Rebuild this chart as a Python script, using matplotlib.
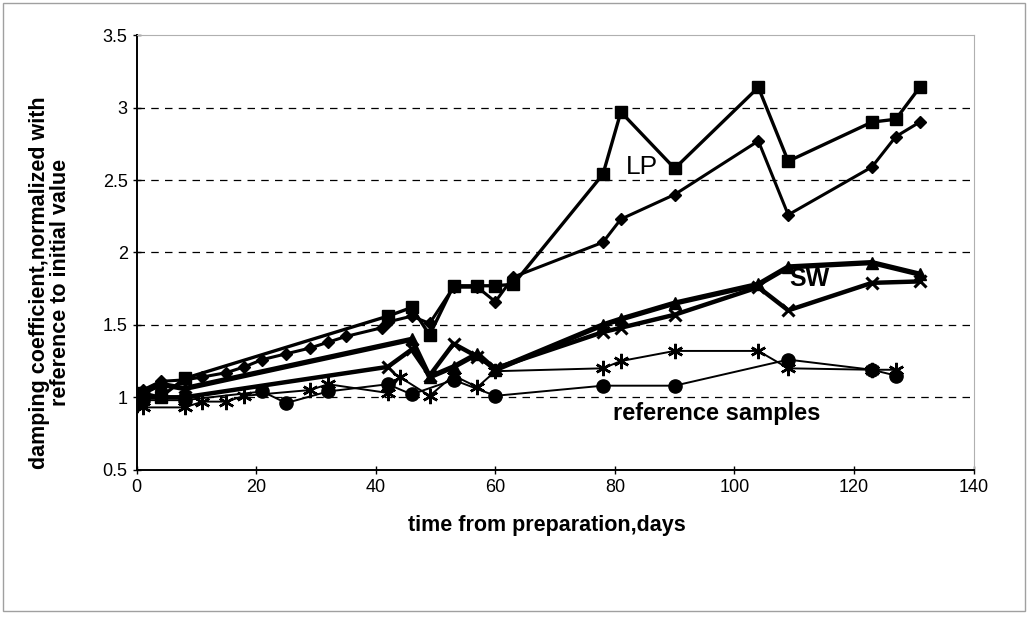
import matplotlib.pyplot as plt
from matplotlib.patches import Rectangle

plt.rcParams['font.family'] = ['Liberation Sans', 'DejaVu Sans']

# LP samples
lp_sq_days = [0, 1, 4, 8, 42, 46, 49, 53, 57, 60, 63, 78, 81, 90, 104, 109, 123, 127, 131]
lp_sq_vals = [1.0, 1.03, 1.0, 1.13, 1.56, 1.62, 1.43, 1.77, 1.77, 1.77, 1.78, 2.54, 2.97, 2.58, 3.14, 2.63, 2.90, 2.92, 3.14]

lp_dia_days = [0, 1, 4, 8, 11, 15, 18, 21, 25, 29, 32, 35, 41, 42, 46, 49, 53, 57, 60, 63, 78, 81, 90, 104, 109, 123, 127, 131]
lp_dia_vals = [1.0, 1.05, 1.11, 1.12, 1.14, 1.17, 1.21, 1.26, 1.30, 1.34, 1.38, 1.42, 1.48, 1.52, 1.56, 1.51, 1.76, 1.76, 1.66, 1.83, 2.07, 2.23, 2.40, 2.77, 2.26, 2.59, 2.80, 2.90]

# SW samples
sw_tri_days = [0, 1, 4, 8, 46, 49, 53, 57, 60, 78, 81, 90, 104, 109, 123, 131]
sw_tri_vals = [1.0, 1.03, 1.09, 1.06, 1.40, 1.14, 1.21, 1.30, 1.19, 1.50, 1.54, 1.65, 1.78, 1.90, 1.93, 1.85]

sw_x_days = [0, 1, 8, 42, 46, 49, 53, 57, 60, 78, 81, 90, 104, 109, 123, 131]
sw_x_vals = [0.96, 1.0, 1.0, 1.21, 1.33, 1.15, 1.37, 1.28, 1.20, 1.45, 1.48, 1.57, 1.76, 1.60, 1.79, 1.80]

# reference samples
ref_star_days = [0, 1, 8, 11, 15, 18, 29, 32, 42, 44, 49, 53, 57, 60, 78, 81, 90, 104, 109, 123, 127]
ref_star_vals = [0.95, 0.93, 0.93, 0.97, 0.97, 1.01, 1.05, 1.09, 1.03, 1.14, 1.01, 1.15, 1.07, 1.18, 1.20, 1.25, 1.32, 1.32, 1.20, 1.19, 1.19]

ref_dot_days = [0, 1, 8, 21, 25, 32, 42, 46, 53, 60, 78, 90, 109, 123, 127]
ref_dot_vals = [1.0, 0.98, 0.98, 1.04, 0.96, 1.04, 1.09, 1.02, 1.12, 1.01, 1.08, 1.08, 1.26, 1.19, 1.15]

fig = plt.figure(figsize=(10.28, 6.18), dpi=100)
ax = fig.add_axes([0.133, 0.240, 0.814, 0.703])

ax.plot(lp_sq_days, lp_sq_vals, color='black', lw=2.4, marker='s', ms=8.5)
ax.plot(lp_dia_days, lp_dia_vals, color='black', lw=2.2, marker='D', ms=6.5)
ax.plot(sw_tri_days, sw_tri_vals, color='black', lw=3.8, marker='^', ms=8.5)
ax.plot(sw_x_days, sw_x_vals, color='black', lw=3.2, marker='x', ms=9, mew=2.2)
ax.plot(ref_star_days, ref_star_vals, color='black', lw=1.4, marker=(6, 2, 0), ms=11, mew=1.8)
ax.plot(ref_dot_days, ref_dot_vals, color='black', lw=1.4, marker='o', ms=9.5)

ax.set_xlim(0, 140)
ax.set_ylim(0.5, 3.5)
ax.set_xticks(range(0, 141, 20))
ax.set_yticks([0.5, 1, 1.5, 2, 2.5, 3, 3.5])
ax.set_yticklabels(['0.5', '1', '1.5', '2', '2.5', '3', '3.5'])
ax.tick_params(direction='inout', length=6, labelsize=13, width=1)
for y in [1, 1.5, 2, 2.5, 3]:
    ax.axhline(y, color='black', lw=0.9, ls=(0, (6, 5)), zorder=0)

ax.spines['left'].set_linewidth(1.4)
ax.spines['bottom'].set_linewidth(1.4)
ax.spines['top'].set_color('#b0b0b0')
ax.spines['right'].set_color('#b0b0b0')

ax.set_xlabel('time from preparation,days', fontsize=15.5, fontweight='bold')
ax.xaxis.set_label_coords(0.49, -0.105)
ax.set_ylabel('damping coefficient,normalized with\nreference to initial value',
              fontsize=15.5, fontweight='bold', linespacing=1.05)
ax.yaxis.set_label_coords(-0.078, 0.43)

ax.text(84.5, 2.59, 'LP', fontsize=19, ha='center', va='center')
ax.text(112.5, 1.82, 'SW', fontsize=18, fontweight='bold', ha='center', va='center')
ax.text(97, 0.89, 'reference samples', fontsize=17, fontweight='bold', ha='center', va='center')

fig.patches.append(Rectangle((0.003, 0.012), 0.994, 0.983, transform=fig.transFigure,
                             fill=False, edgecolor='#a0a0a0', lw=1))

fig.savefig('out.png', dpi=100)
